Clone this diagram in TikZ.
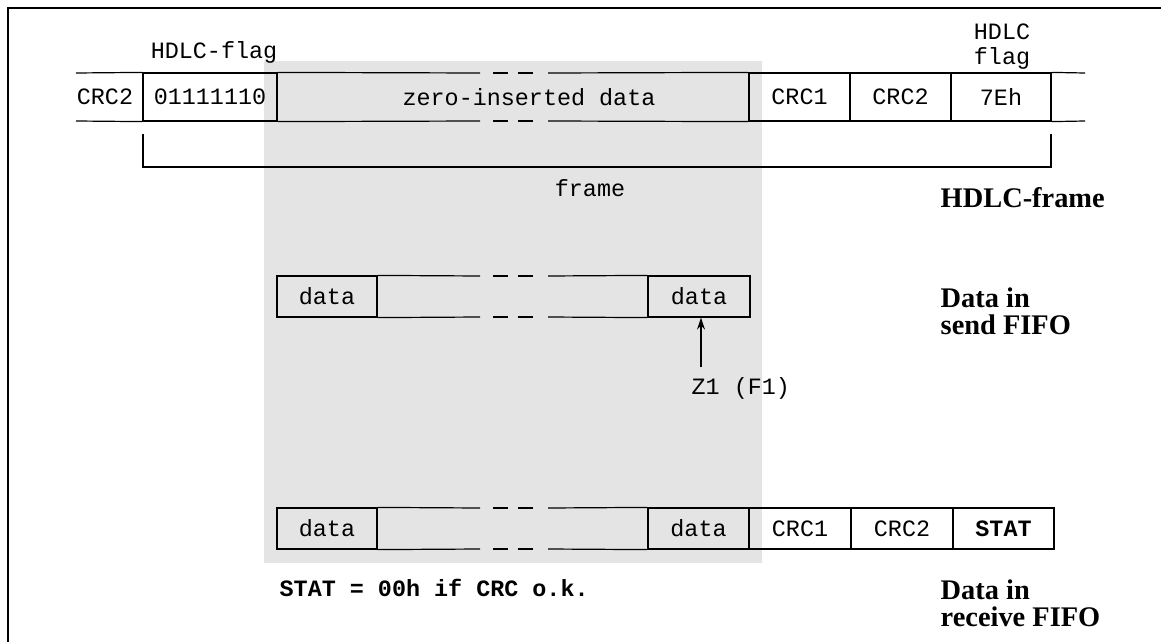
\documentclass[tikz,border=0pt]{standalone}
\usepackage{fontspec}
\setmainfont{Liberation Serif}
\setmonofont{Liberation Mono}
\usetikzlibrary{arrows.meta}
\definecolor{bggray}{RGB}{228,228,228}
\tikzset{
    cell/.style={draw, line width=0.6pt, minimum height=24pt, inner sep=0pt, font=\ttfamily\fontsize{11.7}{13}\selectfont},
    fcell/.style={cell, minimum height=20.5pt},
    txt/.style={inner sep=0pt, font=\ttfamily\fontsize{11.7}{12.5}\selectfont},
    ttl/.style={inner sep=0pt, anchor=west, align=left, font=\bfseries\fontsize{14.2}{13.5}\selectfont},
    gap/.style={line width=1pt, dash pattern=on 7.5pt off 5pt},
    rail/.style={line width=0.6pt},
    bd/.style={>={Stealth[length=6pt,width=4pt]}, line width=0.7pt}
}

\begin{document}
\begin{tikzpicture}[x=0.5pt, y=-0.5pt, bd]
        \useasboundingbox (0,0) rectangle (1161,642);
        \fill[bggray] (264,61) rectangle (762,563);
        \draw[line width=1.3pt] (8,642) -- (8,8) -- (1161,8);

        % HDLC frame
        \node[txt] (crc0) at (105,97) {CRC2};
        \node[cell, minimum width=67pt] (flag) at (210,97) {01111110};
        \node[txt] (zero) at (529,97) {zero-inserted data};
        \node[cell, minimum width=50.5pt] (crc1) at (799.5,97) {CRC1};
        \node[cell, minimum width=50.5pt] (crc2) at (900.5,97) {CRC2};
        \node[cell, minimum width=50pt] (eh) at (1001,97) {7Eh};
        \node[txt] (flagl) at (214,52) {HDLC-flag};
        \node[txt, align=center] (flagr) at (1002,47) {HDLC\\flag};

        \draw[rail] (76,73) -- (flag.north west);
        \draw[rail] (76,121) -- (flag.south west);
        \draw[rail] (flag.north east) -- (480,73);
        \draw[rail] (flag.south east) -- (480,121);
        \draw[rail] (548,73) -- (crc1.north west);
        \draw[rail] (548,121) -- (crc1.south west);
        \draw[gap] (493,73) -- (535,73);
        \draw[gap] (493,121) -- (535,121);
        \draw[rail] (eh.north east) -- (1085,73);
        \draw[rail] (eh.south east) -- (1085,121);

        \coordinate (bl) at (143,134);
        \coordinate (br) at (1051,134);
        \draw[rail] (bl) -- ++(0,33) -| (br);
        \node[txt] (frame) at (590,188) {frame};
        \node[ttl] (hf) at (940,198) {HDLC-frame};

        % send FIFO
        \node[fcell, minimum width=50pt] (sd1) at (327,296.5) {data};
        \node[fcell, minimum width=51pt] (sd2) at (699,296.5) {data};
        \draw[rail] (sd1.north east) -- (480,276);
        \draw[rail] (sd1.south east) -- (480,317);
        \draw[rail] (548,276) -- (sd2.north west);
        \draw[rail] (548,317) -- (sd2.south west);
        \draw[gap] (493,276) -- (535,276);
        \draw[gap] (493,317) -- (535,317);
        \node[txt, anchor=west] (zone) at (691,388) {Z1 (F1)};
        \coordinate (zfoot) at (701,367);
        \draw[->] (zfoot) -- (zfoot |- sd2.south);
        \node[ttl] (sf) at (940,311.5) {Data in\\send FIFO};

        % receive FIFO
        \node[fcell, minimum width=50pt] (rd1) at (327,528.5) {data};
        \node[fcell, minimum width=50.5pt] (rd2) at (698.5,528.5) {data};
        \node[fcell, minimum width=51pt] (rc1) at (800,528.5) {CRC1};
        \node[fcell, minimum width=51pt] (rc2) at (902,528.5) {CRC2};
        \node[fcell, minimum width=50.5pt, font=\ttfamily\bfseries\fontsize{11.7}{13}\selectfont] (stat) at (1003.5,528.5) {STAT};
        \draw[rail] (rd1.north east) -- (480,508);
        \draw[rail] (rd1.south east) -- (480,549);
        \draw[rail] (548,508) -- (rd2.north west);
        \draw[rail] (548,549) -- (rd2.south west);
        \draw[gap] (493,508) -- (535,508);
        \draw[gap] (493,549) -- (535,549);
        \node[txt, anchor=west, font=\ttfamily\bfseries\fontsize{11.7}{13}\selectfont] (note) at (279,588) {STAT = 00h if CRC o.k.};
        \node[ttl] (rf) at (940,603.5) {Data in\\receive FIFO};
    \end{tikzpicture}
\end{document}
